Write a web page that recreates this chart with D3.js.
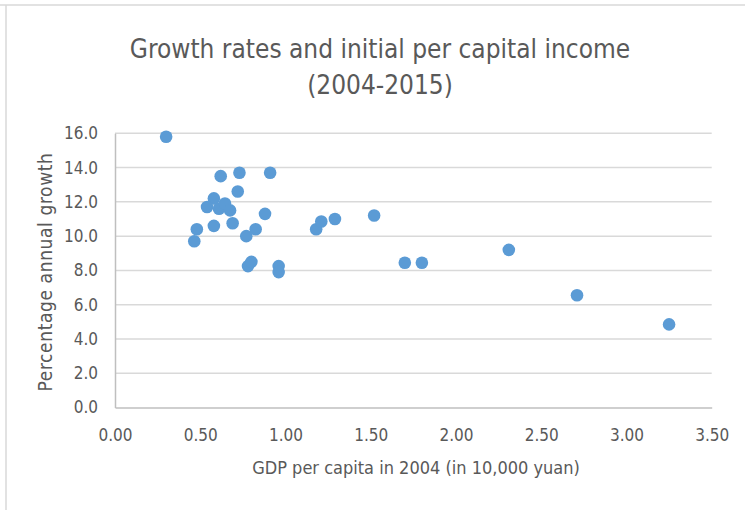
<!DOCTYPE html>
<html>
<head>
<meta charset="utf-8">
<script src="https://d3js.org/d3.v7.min.js"></script>
<style>
  body { margin: 0; background: #fff; }
  text { font-family: "DejaVu Sans Condensed", "Open Sans", sans-serif; fill: #595959; }
</style>
</head>
<body>
<svg id="chart" width="745" height="510"></svg>
<script>
// GDP per capita in 2004 (10,000 yuan)
const gdp2004 = [0.30, 0.62, 0.73, 0.91, 0.72, 0.58, 0.54, 0.61, 0.645, 0.675,
    0.88, 0.58, 0.69, 0.48, 0.465, 0.77, 0.825, 0.78, 0.80, 0.96,
    0.96, 1.18, 1.21, 1.29, 1.52, 1.70, 1.80, 2.31, 2.71, 3.25];
// percentage annual growth 2004-2015
const growth = [15.8, 13.5, 13.7, 13.7, 12.6, 12.2, 11.7, 11.6, 11.9, 11.5,
    11.3, 10.6, 10.75, 10.4, 9.7, 10.0, 10.4, 8.25, 8.5, 8.25,
    7.9, 10.4, 10.85, 11.0, 11.2, 8.45, 8.45, 9.2, 6.55, 4.85];
const xTicks = [0, 0.5, 1, 1.5, 2, 2.5, 3, 3.5];
const yTicks = [0, 2, 4, 6, 8, 10, 12, 14, 16];

const titleLines = ["Growth rates and initial per capital income", "(2004-2015)"];
const xTitle = "GDP per capita in 2004 (in 10,000 yuan)";
const yTitle = "Percentage annual growth";

const svg = d3.select("#chart");
const margin = {top: 133.3, left: 115, right: 745 - 711.7, bottom: 510 - 407.5};
const W = 745, H = 510;

// chart frame (only top + left visible in the crop)
svg.append("line").attr("x1", 0).attr("x2", W).attr("y1", 5).attr("y2", 5)
    .attr("stroke", "#d9d9d9").attr("stroke-width", 1.5);
svg.append("line").attr("x1", 6).attr("x2", 6).attr("y1", 5).attr("y2", H)
    .attr("stroke", "#d9d9d9").attr("stroke-width", 1.5);

const x = d3.scaleLinear().domain([0, 3.5]).range([margin.left, W - margin.right]);
const y = d3.scaleLinear().domain([0, 16]).range([H - margin.bottom, margin.top]);

// gridlines
svg.append("g")
    .selectAll("line")
    .data(yTicks.filter(d => d > 0))
    .join("line")
    .attr("x1", x(0)).attr("x2", x(3.5))
    .attr("y1", d => y(d)).attr("y2", d => y(d))
    .attr("stroke", "#d9d9d9").attr("stroke-width", 1.5);

// y axis
const yAxis = svg.append("g")
    .attr("transform", `translate(${x(0)},0)`)
    .call(d3.axisLeft(y).tickValues(yTicks).tickFormat(d3.format(".1f")).tickSize(0).tickPadding(17));
yAxis.select(".domain").attr("stroke", "#bfbfbf").attr("stroke-width", 1.5);
yAxis.selectAll("text").style("font-size", "17px").attr("fill", "#595959");

// x axis
const xAxis = svg.append("g")
    .attr("transform", `translate(0,${y(0)})`)
    .call(d3.axisBottom(x).tickValues(xTicks).tickFormat(d3.format(".2f")).tickSize(0).tickPadding(21));
xAxis.select(".domain").attr("stroke", "#bfbfbf").attr("stroke-width", 1.5);
xAxis.selectAll("text").style("font-size", "17px").attr("fill", "#595959");

// points
svg.append("g")
    .selectAll("circle")
    .data(gdp2004.map((g, i) => ({g, r: growth[i]})))
    .join("circle")
    .attr("cx", d => x(d.g))
    .attr("cy", d => y(d.r))
    .attr("r", 6.3)
    .attr("fill", "#5b9bd5");

// titles
svg.append("g").selectAll("text")
    .data(titleLines)
    .join("text")
    .attr("x", 380)
    .attr("y", (d, i) => 58 + i * 36)
    .attr("text-anchor", "middle")
    .style("font-size", "26px")
    .text(d => d);

svg.append("text")
    .attr("x", 416).attr("y", 474)
    .attr("text-anchor", "middle")
    .style("font-size", "18px")
    .text(xTitle);

svg.append("text")
    .attr("transform", "translate(52,272) rotate(-90)")
    .attr("text-anchor", "middle")
    .style("font-size", "19px")
    .style("letter-spacing", "0.6px")
    .text(yTitle);
</script>
</body>
</html>
